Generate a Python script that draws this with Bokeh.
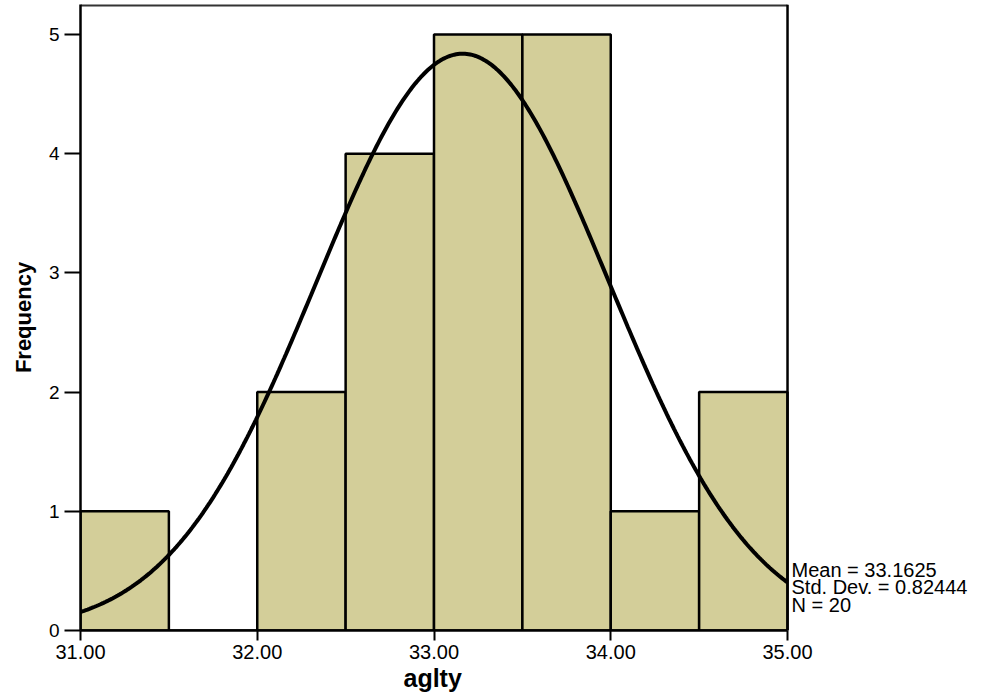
import numpy as np
from bokeh.plotting import figure
from bokeh.models import Range1d, FixedTicker, NumeralTickFormatter, ColumnDataSource, Title
from bokeh.core.properties import value
from bokeh.embed import file_html
from bokeh.resources import INLINE

# ---- data ----
bin_left = [31.0, 31.5, 32.0, 32.5, 33.0, 33.5, 34.0, 34.5]
bin_right = [31.5, 32.0, 32.5, 33.0, 33.5, 34.0, 34.5, 35.0]
counts = [1, 0, 2, 4, 5, 5, 1, 2]
mean_val = 33.1625
sd_val = 0.82444
n_val = 20
x_ticks = [31, 32, 33, 34, 35]
y_ticks = [0, 1, 2, 3, 4, 5]
stats_lines = ["Mean = 33.1625", "Std. Dev. = 0.82444", "N = 20"]
stats_y = [0.508, 0.361, 0.210]

FONT = "Liberation Sans"
Y_END = 5.252
X_END_VIEW = 36.171   # frame extends to the right so the stats text can be drawn

p = figure(width=994, height=693, output_backend="svg", toolbar_location=None,
           x_range=Range1d(x_ticks[0], X_END_VIEW), y_range=Range1d(0, Y_END),
           min_border_left=80, min_border_right=0, min_border_top=4, min_border_bottom=63)
p.background_fill_color = "white"
p.border_fill_color = "white"
p.outline_line_color = None
p.grid.visible = False

src = ColumnDataSource(dict(left=bin_left, right=bin_right, top=counts, bottom=[0] * len(counts)))
p.quad(left="left", right="right", top="top", bottom="bottom", source=src,
       fill_color="#D3CE99", line_color="black", line_width=2.5)

bw = bin_right[0] - bin_left[0]
xs = np.linspace(x_ticks[0], x_ticks[-1], 400)
ys = n_val * bw / (sd_val * np.sqrt(2 * np.pi)) * np.exp(-0.5 * ((xs - mean_val) / sd_val) ** 2)
p.line(xs, ys, line_color="black", line_width=4)

# chart box: top and right edges
p.segment(x0=[x_ticks[0]], y0=[Y_END], x1=[x_ticks[-1]], y1=[Y_END], line_color="#333333", line_width=4)
p.segment(x0=[x_ticks[-1]], y0=[0], x1=[x_ticks[-1]], y1=[Y_END], line_color="black", line_width=2.5)

# statistics text
p.text(x=[x_ticks[-1]] * 3, y=stats_y, text=stats_lines, x_offset=4,
       text_font=value(FONT), text_font_size="20px", text_color="black",
       text_baseline="middle", text_align="left")

for ax in (p.xaxis[0], p.yaxis[0]):
    ax.axis_line_color = "black"
    ax.axis_line_width = 2.5
    ax.major_tick_line_color = "black"
    ax.major_tick_line_width = 2
    ax.major_tick_in = 0
    ax.minor_tick_line_color = None
    ax.major_label_text_font = FONT
    ax.major_label_text_color = "black"
    ax.axis_label_text_font = FONT
    ax.axis_label_text_font_style = "bold"
    ax.axis_label_text_color = "black"

p.xaxis.bounds = (x_ticks[0], x_ticks[-1])
p.xaxis.ticker = FixedTicker(ticks=x_ticks)
p.xaxis.formatter = NumeralTickFormatter(format="0.00")
p.xaxis.major_tick_out = 10
p.xaxis.major_label_standoff = 4
p.xaxis.major_label_text_font_size = "20px"

# x-axis title, centred under the bins (the frame is extended for the stats text)
p.add_layout(Title(text="aglty", align="left", offset=323, standoff=0,
                   text_font=FONT, text_font_size="25px", text_font_style="bold",
                   text_color="black"), "below")

p.yaxis.ticker = FixedTicker(ticks=y_ticks)
p.yaxis.major_tick_out = 16
p.yaxis.major_label_standoff = 5
p.yaxis.major_label_text_font_size = "19px"
p.yaxis.axis_label = "Frequency"
p.yaxis.axis_label_text_font_size = "22px"
p.yaxis.axis_label_standoff = 10

open("out.html", "w").write(file_html(p, INLINE))
